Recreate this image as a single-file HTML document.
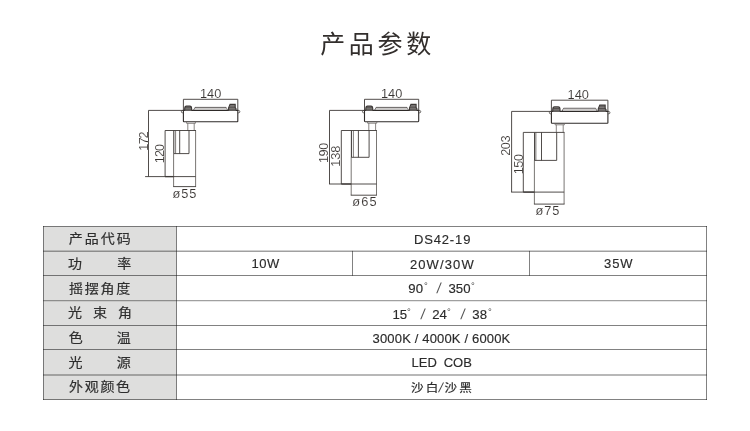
<!DOCTYPE html>
<html lang="zh-CN">
<head>
<meta charset="utf-8">
<title>产品参数</title>
<style>
html,body{margin:0;padding:0;background:#fff;}
body{width:750px;height:431px;position:relative;overflow:hidden;font-family:"Liberation Sans","Noto Sans CJK SC",sans-serif;color:#3a3634;}
#wrap{position:absolute;left:0;top:0;width:750px;height:431px;will-change:transform;}
#art{position:absolute;left:0;top:0;width:750px;height:431px;}
h1{position:absolute;left:0.7px;top:24.8px;transform:scale(1,0.98);width:750px;margin:0;text-align:center;font-weight:400;font-size:25px;line-height:34px;letter-spacing:3.7px;text-indent:3.7px;font-family:"Noto Sans CJK SC","Liberation Sans",sans-serif;color:#322e2c;}
.dim text{font-family:"Liberation Sans",sans-serif;font-size:12.8px;fill:#383432;stroke:#fff;stroke-width:0.1px;}
.lab{position:absolute;left:68.4px;width:62.6px;height:24px;line-height:24px;font-size:14px;display:flex;justify-content:space-between;font-family:"Noto Sans CJK SC","Liberation Sans",sans-serif;color:#2e2e2e;transform:scaleY(0.92);-webkit-text-stroke:0.2px #2e2e2e;}
.val{position:absolute;height:24px;line-height:25px;font-size:13px;text-align:center;white-space:pre;color:#2b2b2b;-webkit-text-stroke:0.15px #2b2b2b;}
.val.cn{font-family:"Noto Sans CJK SC","Liberation Sans",sans-serif;letter-spacing:2.1px;font-size:12.6px;transform:scaleY(0.93);-webkit-text-stroke:0.2px #2b2b2b;}
.tk{position:absolute;height:24px;line-height:25px;font-size:13.2px;white-space:pre;color:#2b2b2b;-webkit-text-stroke:0.15px #2b2b2b;}
.tk.dg{font-size:9.5px;line-height:19.6px;color:#444;-webkit-text-stroke:0;}
.tk.sl{font-size:14.5px;line-height:24.8px;transform:skewX(-8deg);color:#555;-webkit-text-stroke:0;}
.cs{font-weight:400;font-family:"Liberation Sans",sans-serif;font-size:14px;letter-spacing:0;display:inline-block;transform:skewX(-12deg);margin:0 1.4px 0 -1.2px;color:#4a4a4a;-webkit-text-stroke:0;}
</style>
</head>
<body>
<div id="wrap">
<svg id="art" width="750" height="431" viewBox="0 0 750 431">
<rect x="43.3" y="226.3" width="133" height="173.50" fill="#dededd"/>
<g fill="none" stroke="#1c1c1c" stroke-width="0.56">
<path d="M43 226.5H707"/>
<path d="M43 251.2H707" stroke-width="1.45" stroke-opacity="0.42"/>
<path d="M43 275.5H707"/>
<path d="M43 300.65H707" stroke-width="1.4" stroke-opacity="0.42"/>
<path d="M43 325.5H707"/>
<path d="M43 349.5H707"/>
<path d="M43 374.9H707" stroke-width="1.5" stroke-opacity="0.42"/>
<path d="M43 399.5H707"/>
<path d="M43.5 226V400.00"/>
<path d="M176.5 226V400.00"/>
<path d="M352.5 250.90V275.80"/>
<path d="M529.5 250.90V275.80"/>
<path d="M706.5 226V400.00"/>
</g>
<g fill="none" stroke="#3d3937" stroke-width="0.9">
<path d="M183.4 110.4V99.3H237.8V110.4"/>
<path d="M183.4 110.4H237.8V121.20q0 .6 -.6 .6H184.00q-.6 0 -.6 -.6Z" stroke-width="1.1" stroke="#2e2a28"/>
<path d="M183.4 110.50h-0.9a1.15 1.15 0 0 0 0 2.3h0.9" stroke-width="0.75"/>
<path d="M237.8 110.50h0.9a1.15 1.15 0 0 1 0 2.3h-0.9" stroke-width="0.75"/>
<path d="M184.70 110.4v-1.94q0 -2.37 1.73 -2.37h3.45q1.73 0 1.73 2.37v1.94" fill="#9a9795" stroke-width="1.1"/>
<path d="M185.00 107.73h6.30M184.70 109.20h6.90" stroke-width="0.8"/>
<path d="M228.60 110.4v-2.52l1.45 -3.48h5.15v3.30l0.80 0.90v1.80" fill="#9a9795" stroke-width="1.1"/>
<path d="M229.79 106.08h5.28M228.80 107.70h6.60M228.60 109.20h7.20" stroke-width="0.8"/>
<path d="M193.50 110.4l1.50 -3.00H226.10l1.50 3.00" stroke-width="0.8"/>
<path d="M194.60 108.90H226.80" stroke-width="1.3" stroke="#bdbab8"/>
<path d="M186.60 121.8v1.5H195.40v-1.5" stroke="#6a6663" stroke-width="0.8"/>
<path d="M187.8 123.30V130.5 M194.2 123.30V130.5" stroke="#6a6663" stroke-width="0.8"/>
<path d="M195.6 130.5V186.6" stroke="#6a6663" stroke-width="0.9"/>
<path d="M165.1 130.5H196.00"/>
<path d="M173.6 153.6V186.6" stroke="#6a6663"/>
<path d="M173.15 186.6H196.05"/>
<path d="M173.6 176.6H195.6"/>
<path d="M173.6 153.6H189.0V130.5"/>
<path d="M173.80 130.5V153.6" stroke-width="1.05"/>
<path d="M175.6 130.5V153.6" stroke-width="0.7" stroke="#4a4644"/>
<path d="M179.7 130.5V153.6" stroke-width="0.9"/>
<path d="M183.4 110.4H148.5V176.6"/>
<path d="M145.10 176.6H173.6"/>
<path d="M165.1 130.5V176.6"/>
<path d="M165.1 176.6H173.6" stroke-width="1.3"/>
</g>
<g class="dim">
<text x="210.60" y="98.10" text-anchor="middle">140</text>
<text transform="translate(147.60 141.5) rotate(-90)" text-anchor="middle" style="letter-spacing:-0.9px">172</text>
<text transform="translate(164.20 154.0) rotate(-90)" text-anchor="middle" style="letter-spacing:-1.0px">120</text>
<text x="185.0" y="197.6" text-anchor="middle" style="letter-spacing:0.9px">ø55</text>
</g>
<g fill="none" stroke="#3d3937" stroke-width="0.9">
<path d="M364.5 110.4V99.3H418.7V110.4"/>
<path d="M364.5 110.4H418.7V121.10q0 .6 -.6 .6H365.10q-.6 0 -.6 -.6Z" stroke-width="1.1" stroke="#2e2a28"/>
<path d="M364.5 110.50h-0.9a1.15 1.15 0 0 0 0 2.3h0.9" stroke-width="0.75"/>
<path d="M418.7 110.50h0.9a1.15 1.15 0 0 1 0 2.3h-0.9" stroke-width="0.75"/>
<path d="M365.80 110.4v-1.94q0 -2.37 1.73 -2.37h3.45q1.73 0 1.73 2.37v1.94" fill="#9a9795" stroke-width="1.1"/>
<path d="M366.10 107.73h6.30M365.80 109.20h6.90" stroke-width="0.8"/>
<path d="M409.50 110.4v-2.52l1.45 -3.48h5.15v3.30l0.80 0.90v1.80" fill="#9a9795" stroke-width="1.1"/>
<path d="M410.69 106.08h5.28M409.70 107.70h6.60M409.50 109.20h7.20" stroke-width="0.8"/>
<path d="M374.60 110.4l1.50 -3.00H407.00l1.50 3.00" stroke-width="0.8"/>
<path d="M375.70 108.90H407.70" stroke-width="1.3" stroke="#bdbab8"/>
<path d="M367.60 121.7v1.5H376.80v-1.5" stroke="#6a6663" stroke-width="0.8"/>
<path d="M368.8 123.20V130.5 M375.6 123.20V130.5" stroke="#6a6663" stroke-width="0.8"/>
<path d="M376.5 130.5V195.2" stroke="#6a6663" stroke-width="0.9"/>
<path d="M341.3 130.5H376.90"/>
<path d="M351.2 157.3V195.2" stroke="#6a6663"/>
<path d="M350.75 195.2H376.95"/>
<path d="M351.2 184.0H376.5"/>
<path d="M351.2 157.3H369.1V130.5"/>
<path d="M351.40 130.5V157.3" stroke-width="1.05"/>
<path d="M353.4 130.5V157.3" stroke-width="0.7" stroke="#4a4644"/>
<path d="M358.4 130.5V157.3" stroke-width="0.9"/>
<path d="M364.5 110.4H329.5V184.0"/>
<path d="M329.05 184.0H351.2"/>
<path d="M341.3 130.5V184.0"/>
<path d="M341.3 184.0H351.2" stroke-width="1.3"/>
</g>
<g class="dim">
<text x="391.60" y="98.10" text-anchor="middle">140</text>
<text transform="translate(328.10 153.1) rotate(-90)" text-anchor="middle" style="letter-spacing:-0.5px">190</text>
<text transform="translate(339.90 156.2) rotate(-90)" text-anchor="middle" style="letter-spacing:-0.1px">138</text>
<text x="365.0" y="205.7" text-anchor="middle" style="letter-spacing:1.2px">ø65</text>
</g>
<g fill="none" stroke="#3d3937" stroke-width="0.9">
<path d="M551.4 111.4V100.2H607.9V111.4"/>
<path d="M551.4 111.4H607.9V122.70q0 .6 -.6 .6H552.00q-.6 0 -.6 -.6Z" stroke-width="1.1" stroke="#2e2a28"/>
<path d="M551.4 111.50h-0.9a1.15 1.15 0 0 0 0 2.3h0.9" stroke-width="0.75"/>
<path d="M607.9 111.50h0.9a1.15 1.15 0 0 1 0 2.3h-0.9" stroke-width="0.75"/>
<path d="M552.76 111.4v-2.03q0 -2.48 1.81 -2.48h3.62q1.81 0 1.81 2.48v2.03" fill="#9a9795" stroke-width="1.1"/>
<path d="M553.06 108.60h6.65M552.76 110.14h7.25" stroke-width="0.8"/>
<path d="M598.24 111.4v-2.65l1.52 -3.65h5.41v3.47l0.84 0.95v1.89" fill="#9a9795" stroke-width="1.1"/>
<path d="M599.49 106.86h5.54M598.44 108.57h6.93M598.24 110.14h7.53" stroke-width="0.8"/>
<path d="M562.00 111.4l1.58 -3.15H595.62l1.58 3.15" stroke-width="0.8"/>
<path d="M563.16 109.83H596.35" stroke-width="1.3" stroke="#bdbab8"/>
<path d="M555.10 123.3v1.5H564.40v-1.5" stroke="#6a6663" stroke-width="0.8"/>
<path d="M556.3 124.80V132.4 M563.2 124.80V132.4" stroke="#6a6663" stroke-width="0.8"/>
<path d="M564.1 132.4V204.1" stroke="#6a6663" stroke-width="0.9"/>
<path d="M523.3 132.4H564.50"/>
<path d="M534.4 160.4V204.1" stroke="#6a6663"/>
<path d="M533.95 204.1H564.55"/>
<path d="M534.4 192.1H564.1"/>
<path d="M534.4 160.4H556.7V132.4"/>
<path d="M534.60 132.4V160.4" stroke-width="1.05"/>
<path d="M535.9 132.4V160.4" stroke-width="0.7" stroke="#4a4644"/>
<path d="M541.5 132.4V160.4" stroke-width="0.9"/>
<path d="M551.4 111.4H511.6V192.1"/>
<path d="M511.15 192.1H534.4"/>
<path d="M523.3 132.4V192.1"/>
<path d="M523.3 192.1H534.4" stroke-width="1.3"/>
</g>
<g class="dim">
<text x="578.25" y="98.50" text-anchor="middle">140</text>
<text transform="translate(510.20 145.9) rotate(-90)" text-anchor="middle" style="letter-spacing:-0.5px">203</text>
<text transform="translate(522.80 164.4) rotate(-90)" text-anchor="middle" style="letter-spacing:-0.5px">150</text>
<text x="548.0" y="215.0" text-anchor="middle" style="letter-spacing:0.9px">ø75</text>
</g>
</svg>
<h1>产品参数</h1>
<div class="lab" style="top:225.30px;left:68.80px;width:62.00px"><span>产</span><span>品</span><span>代</span><span>码</span></div>
<div class="lab" style="top:250.40px;left:68.10px;width:63.20px"><span>功</span><span>率</span></div>
<div class="lab" style="top:275.10px;left:69.10px;width:61.20px"><span>摇</span><span>摆</span><span>角</span><span>度</span></div>
<div class="lab" style="top:299.20px;left:67.90px;width:64.00px"><span>光</span><span>束</span><span>角</span></div>
<div class="lab" style="top:323.80px;left:68.80px;width:62.00px"><span>色</span><span>温</span></div>
<div class="lab" style="top:349.20px;left:68.40px;width:62.40px"><span>光</span><span>源</span></div>
<div class="lab" style="top:373.40px;left:69.10px;width:61.00px"><span>外</span><span>观</span><span>颜</span><span>色</span></div>
<div class="val " style="top:227.00px;left:177.60px;width:530px;letter-spacing:0.85px">DS42-19</div>
<div class="val " style="top:250.60px;left:177.70px;width:176px;letter-spacing:0.5px">10W</div>
<div class="val " style="top:251.70px;left:353.90px;width:177px;letter-spacing:1.13px">20W/30W</div>
<div class="val " style="top:250.60px;left:530.20px;width:177px;letter-spacing:0.8px">35W</div>
<span class="tk n" style="top:276.40px;left:408.30px">90</span>
<span class="tk dg" style="top:276.40px;left:423.90px">°</span>
<span class="tk sl" style="top:276.40px;left:437.00px">/</span>
<span class="tk n" style="top:276.40px;left:448.50px">350</span>
<span class="tk dg" style="top:276.40px;left:471.00px">°</span>
<span class="tk n" style="top:301.80px;left:392.50px">15</span>
<span class="tk dg" style="top:301.80px;left:407.00px">°</span>
<span class="tk sl" style="top:301.80px;left:420.60px">/</span>
<span class="tk n" style="top:301.80px;left:432.20px">24</span>
<span class="tk dg" style="top:301.80px;left:447.00px">°</span>
<span class="tk sl" style="top:301.80px;left:460.60px">/</span>
<span class="tk n" style="top:301.80px;left:472.30px">38</span>
<span class="tk dg" style="top:301.80px;left:487.90px">°</span>
<div class="val " style="top:325.80px;left:176.50px;width:530px;letter-spacing:0.16px">3000K / 4000K / 6000K</div>
<div class="val " style="top:349.50px;left:176.70px;width:530px;word-spacing:3.2px">LED COB</div>
<div class="val cn" style="top:373.50px;left:177.50px;width:530px;">沙白<b class="cs">/</b>沙黑</div>
</div>
</body>
</html>
